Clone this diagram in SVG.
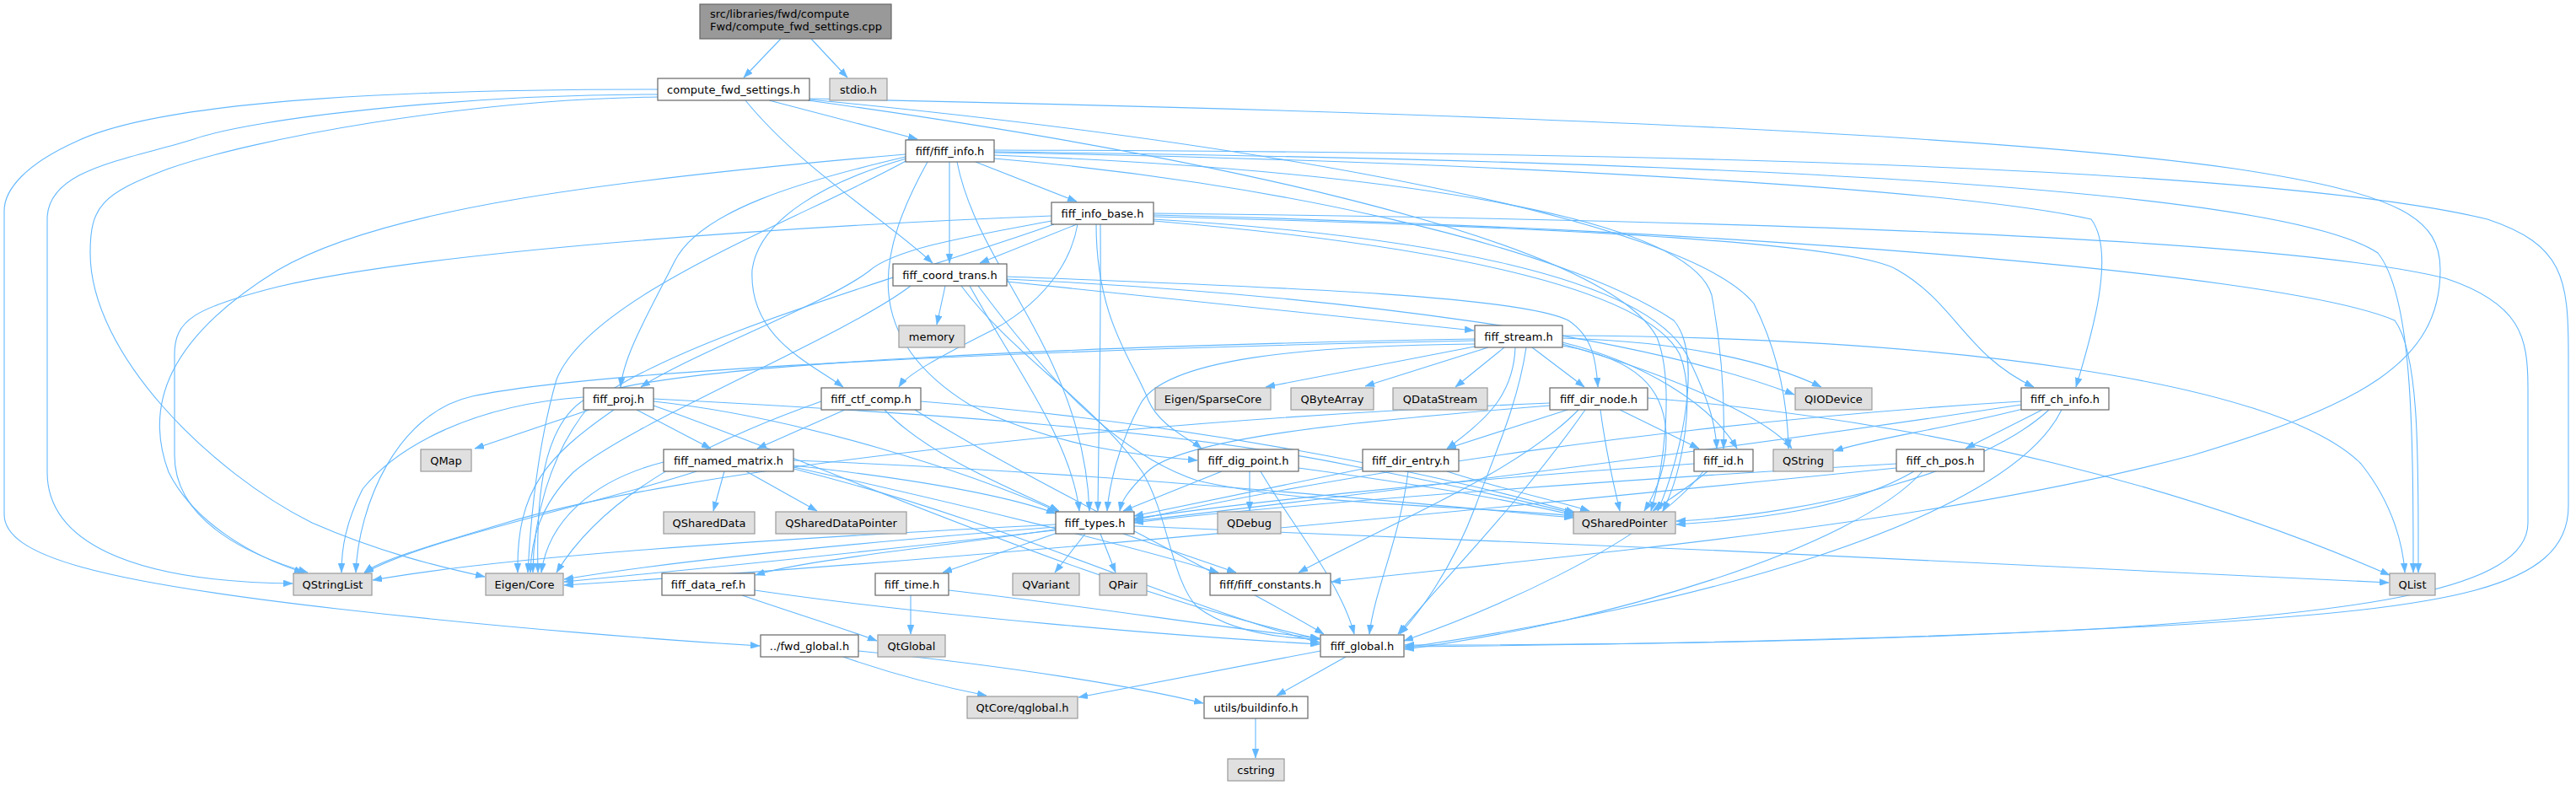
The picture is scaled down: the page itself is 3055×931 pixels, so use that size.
<svg xmlns="http://www.w3.org/2000/svg" width="3055" height="931" viewBox="0 0 3055 931">
<style>
.e{fill:none;stroke:#63b8ff;stroke-width:1.1;marker-end:url(#a)}
.w{fill:#ffffff;stroke:#666666;stroke-width:1.2}
.g{fill:#e0e0e0;stroke:#999999;stroke-width:1.2}
.r{fill:#999999;stroke:#666666;stroke-width:1.2}
text{font-family:"DejaVu Sans","Liberation Sans",sans-serif;font-size:13px;fill:#000000;text-anchor:middle}
text.l{text-anchor:start}
</style>
<defs>
<marker id="a" viewBox="0 0 11 8" refX="11" refY="4" markerWidth="11" markerHeight="8" markerUnits="userSpaceOnUse" orient="auto">
<path d="M0,0 L11,4 L0,8 z" fill="#63b8ff" stroke="#63b8ff" stroke-width="0.5"/>
</marker>
</defs>
<rect width="3055" height="931" fill="#ffffff"/>
<g id="edges">
<path class="e" d="M926,46 L882,92"/>
<path class="e" d="M962,46 L1005,92"/>
<path class="e" d="M912,119 L1088,165"/>
<path class="e" d="M884,119 C950,200 1050,260 1106,312"/>
<path class="e" d="M780,106 C520,106 200,115 90,168 C30,195 5,225 5,250 L5,610 C5,660 120,690 400,722 C600,745 800,760 901,766"/>
<path class="e" d="M780,112 C550,112 300,140 230,165 C150,190 56,200 56,260 L56,560 C56,640 150,690 347,692"/>
<path class="e" d="M780,115 C550,118 300,165 200,200 C120,230 107,245 107,300 C107,420 250,560 370,620 C450,655 520,672 575,684"/>
<path class="e" d="M960,117 C1500,128 2300,150 2650,200 C2850,230 2894,260 2894,320 C2894,430 2800,480 2600,540 C2300,620 1900,655 1579,690"/>
<path class="e" d="M960,118 C1500,170 2000,260 2080,360 C2110,420 2120,480 2121,532"/>
<path class="e" d="M958,119 C1400,180 1900,280 1965,400 C1985,450 1975,550 1958,606"/>
<path class="e" d="M1157,192 L1277,239"/>
<path class="e" d="M1126,192 L1126,312"/>
<path class="e" d="M1074,186 C950,215 830,250 800,310 C770,370 740,420 736,459"/>
<path class="e" d="M1075,188 C980,215 900,260 892,320 C888,400 960,430 1000,459"/>
<path class="e" d="M1076,190 C950,260 700,350 660,450 C640,520 630,600 626,679"/>
<path class="e" d="M1074,183 C700,215 450,250 330,320 C200,400 170,480 200,560 C230,620 300,660 360,679"/>
<path class="e" d="M1100,192 C1040,300 1020,400 1150,480 C1250,530 1350,540 1420,546"/>
<path class="e" d="M1135,192 C1160,320 1285,420 1292,606"/>
<path class="e" d="M1179,181 C1700,190 2300,220 2480,260 C2510,300 2480,400 2462,459"/>
<path class="e" d="M1179,184 C1600,200 2000,250 2030,350 C2045,430 2045,500 2044,532"/>
<path class="e" d="M1179,188 C1500,215 1850,290 1985,380 C2020,420 1995,540 1966,606"/>
<path class="e" d="M1179,178 C2000,180 2700,200 2950,260 C3040,290 3046,330 3046,420 L3046,600 C3046,700 2900,720 2600,740 C2300,758 1900,765 1666,767"/>
<path class="e" d="M1179,180 C2000,190 2700,220 2820,300 C2860,350 2862,500 2862,679"/>
<path class="e" d="M1277,266 L1162,312"/>
<path class="e" d="M1305,266 C1306,400 1303,500 1302,606"/>
<path class="e" d="M1300,266 C1300,380 1345,430 1362,475 C1375,505 1410,520 1425,532"/>
<path class="e" d="M1247,262 C1150,280 1060,295 1030,322 C980,360 820,420 760,459"/>
<path class="e" d="M1278,266 C1272,300 1250,350 1180,390 C1110,425 1075,445 1066,459"/>
<path class="e" d="M1368,257 C1900,270 2200,290 2250,320 C2320,360 2330,420 2412,459"/>
<path class="e" d="M1368,260 C1700,280 1950,330 2000,420 C2030,480 2035,510 2036,532"/>
<path class="e" d="M1368,253 C2000,260 2700,280 2900,330 C2990,360 2998,400 2998,460 L2998,620 C2998,700 2800,725 2500,745 C2200,762 1900,765 1666,765"/>
<path class="e" d="M1368,255 C2000,270 2700,320 2840,380 C2870,420 2868,550 2868,679"/>
<path class="e" d="M1247,256 C900,270 500,300 330,340 C230,365 207,380 207,420 L207,540 C207,620 300,660 365,679"/>
<path class="e" d="M1368,262 C1700,290 1950,340 1992,420 C2012,470 1995,560 1972,606"/>
<path class="e" d="M1250,266 C1100,320 800,400 700,480 C650,540 632,620 632,679"/>
<path class="e" d="M1121,339 L1111,385"/>
<path class="e" d="M1194,334 C1400,355 1600,375 1748,392"/>
<path class="e" d="M1194,328 C1500,340 1800,350 1860,380 C1890,400 1893,430 1895,459"/>
<path class="e" d="M1150,339 C1200,430 1270,520 1280,606"/>
<path class="e" d="M1080,339 C1000,400 750,500 680,560 C640,600 630,640 629,679"/>
<path class="e" d="M1140,339 C1200,420 1300,480 1355,560 C1385,610 1390,690 1420,720 C1460,750 1520,757 1565,758"/>
<path class="e" d="M1194,331 C1600,350 1950,400 2128,468"/>
<path class="e" d="M1160,339 C1250,460 1330,540 1420,570 C1550,600 1750,600 1866,612"/>
<path class="e" d="M1749,411 L1501,459"/>
<path class="e" d="M1765,412 L1619,458"/>
<path class="e" d="M1784,412 L1726,459"/>
<path class="e" d="M1817,412 L1879,459"/>
<path class="e" d="M1797,412 C1795,470 1760,500 1716,532"/>
<path class="e" d="M1749,408 C1550,410 1380,425 1352,480 C1325,530 1315,580 1313,606"/>
<path class="e" d="M1749,402 C1300,410 800,430 700,470 C640,500 636,600 638,679"/>
<path class="e" d="M1749,404 C1200,415 700,440 560,470 C470,490 425,600 422,679"/>
<path class="e" d="M1853,401 C2000,405 2100,430 2160,459"/>
<path class="e" d="M1853,406 C1950,430 2030,480 2060,532"/>
<path class="e" d="M1853,408 C2000,450 2100,500 2125,532"/>
<path class="e" d="M1853,398 C2300,400 2700,450 2800,550 C2840,600 2850,650 2852,679"/>
<path class="e" d="M1853,410 C1940,425 1976,460 1976,520 C1976,560 1960,590 1950,606"/>
<path class="e" d="M1810,412 C1800,480 1772,540 1750,600 C1720,680 1680,730 1660,752"/>
<path class="e" d="M1859,486 L1716,532"/>
<path class="e" d="M1838,481 C1600,500 1400,520 1360,560 C1335,585 1330,595 1328,606"/>
<path class="e" d="M1921,486 L2015,532"/>
<path class="e" d="M1898,486 C1905,540 1915,580 1921,606"/>
<path class="e" d="M1872,486 C1800,560 1650,620 1540,679"/>
<path class="e" d="M1880,486 C1800,600 1700,700 1658,752"/>
<path class="e" d="M1954,472 C2300,500 2600,580 2834,682"/>
<path class="e" d="M1838,478 C1300,500 800,560 600,620 C500,650 450,665 432,679"/>
<path class="e" d="M1449,559 L1332,606"/>
<path class="e" d="M1482,559 L1482,606"/>
<path class="e" d="M1540,555 C1650,570 1780,590 1866,611"/>
<path class="e" d="M1495,559 C1530,620 1590,690 1606,752"/>
<path class="e" d="M1616,556 C1500,580 1400,600 1345,612"/>
<path class="e" d="M1716,559 C1780,580 1850,595 1885,606"/>
<path class="e" d="M1670,559 C1660,640 1630,700 1624,752"/>
<path class="e" d="M2009,550 C1700,570 1450,600 1345,615"/>
<path class="e" d="M2025,559 C2000,580 1975,595 1960,606"/>
<path class="e" d="M2020,559 C1950,650 1750,730 1665,760"/>
<path class="e" d="M2422,486 L2331,532"/>
<path class="e" d="M2399,485 C2300,510 2220,520 2175,535"/>
<path class="e" d="M2397,476 C2000,500 1600,560 1345,617"/>
<path class="e" d="M2430,486 C2350,560 2150,610 1988,618"/>
<path class="e" d="M2445,486 C2380,620 2000,720 1666,768"/>
<path class="e" d="M2397,480 C2000,540 1300,630 669,690"/>
<path class="e" d="M2249,550 C1900,570 1500,600 1345,620"/>
<path class="e" d="M2270,559 C2200,600 2100,615 1988,622"/>
<path class="e" d="M2280,559 C2200,650 1900,740 1666,770"/>
<path class="e" d="M2249,555 C1800,600 1200,660 669,694"/>
<path class="e" d="M859,559 L846,606"/>
<path class="e" d="M885,559 L969,606"/>
<path class="e" d="M941,552 C1100,570 1200,590 1252,609"/>
<path class="e" d="M941,556 C1200,620 1400,720 1565,762"/>
<path class="e" d="M826,559 C700,600 500,640 432,680"/>
<path class="e" d="M787,548 C700,570 650,620 642,679"/>
<path class="e" d="M941,546 C1300,560 1600,590 1866,614"/>
<path class="e" d="M941,554 C1150,600 1350,650 1445,679"/>
<path class="e" d="M699,486 L563,532"/>
<path class="e" d="M755,486 L843,532"/>
<path class="e" d="M775,476 C950,495 1150,560 1255,607"/>
<path class="e" d="M775,481 C1000,560 1300,700 1565,758"/>
<path class="e" d="M692,471 C560,480 470,530 430,580 C410,620 405,650 405,679"/>
<path class="e" d="M728,486 C650,540 612,580 614,679"/>
<path class="e" d="M775,473 C1100,490 1400,510 1606,553 C1750,580 1830,600 1866,609"/>
<path class="e" d="M1002,486 L898,532"/>
<path class="e" d="M1049,486 C1100,540 1200,580 1256,606"/>
<path class="e" d="M1085,486 C1200,560 1450,680 1570,752"/>
<path class="e" d="M974,476 C850,520 720,580 660,679"/>
<path class="e" d="M1092,476 C1400,500 1700,560 1868,608"/>
<path class="e" d="M1254,632 L1118,679"/>
<path class="e" d="M1287,633 L1251,679"/>
<path class="e" d="M1305,633 L1323,679"/>
<path class="e" d="M1332,633 L1466,679"/>
<path class="e" d="M1252,628 C1100,650 950,665 896,682"/>
<path class="e" d="M1252,622 C900,640 600,660 442,688"/>
<path class="e" d="M1252,625 C1000,645 800,665 669,687"/>
<path class="e" d="M1345,624 C1800,640 2400,670 2833,691"/>
<path class="e" d="M1080,706 L1080,752"/>
<path class="e" d="M1125,700 C1300,720 1450,745 1565,757"/>
<path class="e" d="M880,706 C950,730 1000,745 1040,760"/>
<path class="e" d="M895,700 C1100,730 1400,755 1565,764"/>
<path class="e" d="M1566,772 L1279,827"/>
<path class="e" d="M1596,779 L1514,825"/>
<path class="e" d="M1000,779 C1060,800 1120,815 1170,825"/>
<path class="e" d="M1018,772 C1200,790 1350,815 1427,834"/>
<path class="e" d="M1489,852 L1489,899"/>
</g>
<g id="root"><rect class="r" x="830" y="5" width="227" height="41"/><text class="l" x="842" y="21">src/libraries/fwd/compute</text><text class="l" x="842" y="36">Fwd/compute_fwd_settings.cpp</text></g>
<g id="compute_fwd_settings_h"><rect class="w" x="780" y="93" width="180" height="26"/><text x="870" y="110.5">compute_fwd_settings.h</text></g>
<g id="stdio_h"><rect class="g" x="984" y="93" width="68" height="26"/><text x="1018" y="110.5">stdio.h</text></g>
<g id="fiff_info_h"><rect class="w" x="1074" y="166" width="105" height="26"/><text x="1126.5" y="183.5">fiff/fiff_info.h</text></g>
<g id="fiff_info_base_h"><rect class="w" x="1247" y="240" width="121" height="26"/><text x="1307.5" y="257.5">fiff_info_base.h</text></g>
<g id="fiff_coord_trans_h"><rect class="w" x="1059" y="313" width="135" height="26"/><text x="1126.5" y="330.5">fiff_coord_trans.h</text></g>
<g id="memory"><rect class="g" x="1066" y="386" width="78" height="26"/><text x="1105" y="403.5">memory</text></g>
<g id="fiff_stream_h"><rect class="w" x="1749" y="386" width="104" height="26"/><text x="1801" y="403.5">fiff_stream.h</text></g>
<g id="fiff_proj_h"><rect class="w" x="692" y="460" width="83" height="26"/><text x="733.5" y="477.5">fiff_proj.h</text></g>
<g id="fiff_ctf_comp_h"><rect class="w" x="974" y="460" width="118" height="26"/><text x="1033" y="477.5">fiff_ctf_comp.h</text></g>
<g id="Eigen_SparseCore"><rect class="g" x="1370" y="460" width="137" height="26"/><text x="1438.5" y="477.5">Eigen/SparseCore</text></g>
<g id="QByteArray"><rect class="g" x="1531" y="460" width="98" height="26"/><text x="1580" y="477.5">QByteArray</text></g>
<g id="QDataStream"><rect class="g" x="1652" y="460" width="112" height="26"/><text x="1708" y="477.5">QDataStream</text></g>
<g id="fiff_dir_node_h"><rect class="w" x="1838" y="460" width="116" height="26"/><text x="1896" y="477.5">fiff_dir_node.h</text></g>
<g id="QIODevice"><rect class="g" x="2129" y="460" width="91" height="26"/><text x="2174.5" y="477.5">QIODevice</text></g>
<g id="fiff_ch_info_h"><rect class="w" x="2397" y="460" width="104" height="26"/><text x="2449" y="477.5">fiff_ch_info.h</text></g>
<g id="QMap"><rect class="g" x="499" y="533" width="60" height="26"/><text x="529" y="550.5">QMap</text></g>
<g id="fiff_named_matrix_h"><rect class="w" x="787" y="533" width="154" height="26"/><text x="864" y="550.5">fiff_named_matrix.h</text></g>
<g id="fiff_dig_point_h"><rect class="w" x="1421" y="533" width="119" height="26"/><text x="1480.5" y="550.5">fiff_dig_point.h</text></g>
<g id="fiff_dir_entry_h"><rect class="w" x="1616" y="533" width="114" height="26"/><text x="1673" y="550.5">fiff_dir_entry.h</text></g>
<g id="fiff_id_h"><rect class="w" x="2009" y="533" width="70" height="26"/><text x="2044" y="550.5">fiff_id.h</text></g>
<g id="QString"><rect class="g" x="2103" y="533" width="71" height="26"/><text x="2138.5" y="550.5">QString</text></g>
<g id="fiff_ch_pos_h"><rect class="w" x="2249" y="533" width="104" height="26"/><text x="2301" y="550.5">fiff_ch_pos.h</text></g>
<g id="QSharedData"><rect class="g" x="787" y="607" width="108" height="26"/><text x="841" y="624.5">QSharedData</text></g>
<g id="QSharedDataPointer"><rect class="g" x="920" y="607" width="155" height="26"/><text x="997.5" y="624.5">QSharedDataPointer</text></g>
<g id="fiff_types_h"><rect class="w" x="1252" y="607" width="93" height="26"/><text x="1298.5" y="624.5">fiff_types.h</text></g>
<g id="QDebug"><rect class="g" x="1444" y="607" width="75" height="26"/><text x="1481.5" y="624.5">QDebug</text></g>
<g id="QSharedPointer"><rect class="g" x="1866" y="607" width="121" height="26"/><text x="1926.5" y="624.5">QSharedPointer</text></g>
<g id="QStringList"><rect class="g" x="348" y="680" width="93" height="26"/><text x="394.5" y="697.5">QStringList</text></g>
<g id="Eigen_Core"><rect class="g" x="576" y="680" width="92" height="26"/><text x="622" y="697.5">Eigen/Core</text></g>
<g id="fiff_data_ref_h"><rect class="w" x="785" y="680" width="110" height="26"/><text x="840" y="697.5">fiff_data_ref.h</text></g>
<g id="fiff_time_h"><rect class="w" x="1038" y="680" width="87" height="26"/><text x="1081.5" y="697.5">fiff_time.h</text></g>
<g id="QVariant"><rect class="g" x="1201" y="680" width="79" height="26"/><text x="1240.5" y="697.5">QVariant</text></g>
<g id="QPair"><rect class="g" x="1304" y="680" width="56" height="26"/><text x="1332" y="697.5">QPair</text></g>
<g id="fiff_constants_h"><rect class="w" x="1435" y="680" width="143" height="26"/><text x="1506.5" y="697.5">fiff/fiff_constants.h</text></g>
<g id="QList"><rect class="g" x="2834" y="680" width="54" height="26"/><text x="2861" y="697.5">QList</text></g>
<g id="fwd_global_h"><rect class="w" x="902" y="753" width="116" height="26"/><text x="960" y="770.5">../fwd_global.h</text></g>
<g id="QtGlobal"><rect class="g" x="1041" y="753" width="80" height="26"/><text x="1081" y="770.5">QtGlobal</text></g>
<g id="fiff_global_h"><rect class="w" x="1566" y="753" width="99" height="26"/><text x="1615.5" y="770.5">fiff_global.h</text></g>
<g id="QtCore_qglobal_h"><rect class="g" x="1147" y="826" width="131" height="26"/><text x="1212.5" y="843.5">QtCore/qglobal.h</text></g>
<g id="utils_buildinfo_h"><rect class="w" x="1428" y="826" width="123" height="26"/><text x="1489.5" y="843.5">utils/buildinfo.h</text></g>
<g id="cstring"><rect class="g" x="1456" y="900" width="67" height="26"/><text x="1489.5" y="917.5">cstring</text></g>
</svg>
